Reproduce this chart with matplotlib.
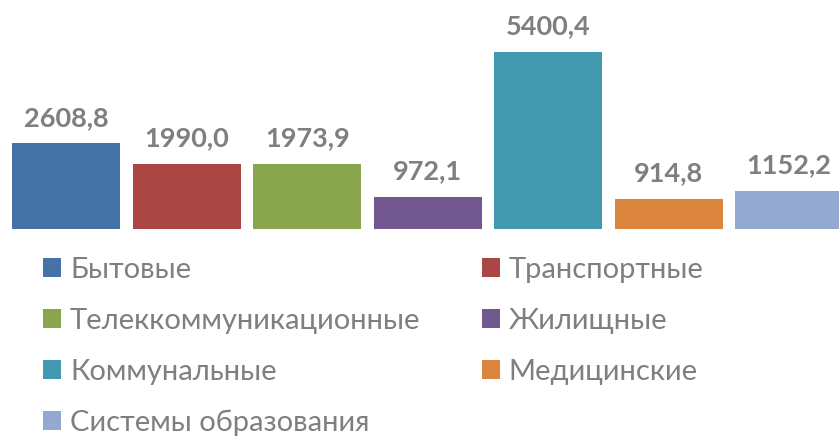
import matplotlib
matplotlib.use("Agg")
import matplotlib.pyplot as plt
from matplotlib.patches import Patch

categories = ["Бытовые", "Транспортные", "Телеккоммуникационные", "Жилищные",
              "Коммунальные", "Медицинские", "Системы образования"]
values = [2608.8, 1990.0, 1973.9, 972.1, 5400.4, 914.8, 1152.2]
value_labels = ["2608,8", "1990,0", "1973,9", "972,1", "5400,4", "914,8", "1152,2"]
colors = ["#4572A7", "#AA4643", "#89A54E", "#71588F", "#4198AF", "#DB843D", "#93A9CF"]

plt.rcParams['font.family'] = ['Lato', 'DejaVu Sans']

W, H = 839, 437
fig = plt.figure(figsize=(W / 100, H / 100), dpi=100)
left_px, slot = 6, 120.5
base_y = 229
top_y = 52
ax = fig.add_axes([left_px / W, 1 - base_y / H, 7 * slot / W, base_y / H])
x = list(range(len(values)))
ax.bar(x, values, width=0.9, color=colors)
ax.set_xlim(-0.5, 6.5)
ymax = 5400.4 * base_y / (base_y - top_y)
ax.set_ylim(0, ymax)
ax.axis('off')
for xi, v, lab in zip(x, values, value_labels):
    ax.annotate(lab, (xi, v), xytext=(0, 18.5), textcoords='offset points',
                ha='center', va='center', fontsize=19.5, fontweight='bold', color='#7F7F7F')

handles = [Patch(facecolor=c, edgecolor='none') for c in colors]
order = [0, 2, 4, 6, 1, 3, 5]
fig.legend([handles[i] for i in order], [categories[i] for i in order],
           ncol=2, loc='upper left', bbox_to_anchor=(43 / W, 1 - 257 / H),
           frameon=False, fontsize=21, labelcolor='#7F7F7F',
           handlelength=0.62, handleheight=0.62, handletextpad=0.31,
           labelspacing=0.85, columnspacing=2.09, borderaxespad=0, borderpad=0)

fig.savefig("out.png", dpi=100)
